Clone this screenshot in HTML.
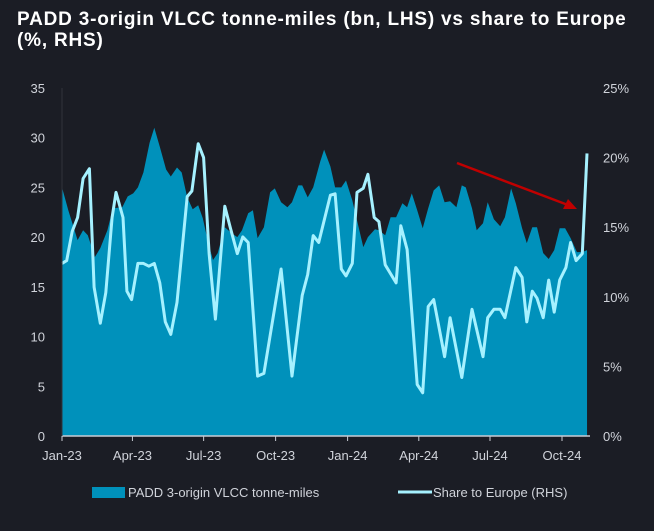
<!DOCTYPE html>
<html><head><meta charset="utf-8"><style>
body{margin:0;background:#1b1d25;width:654px;height:531px;overflow:hidden;font-family:"Liberation Sans",sans-serif}
#title{position:absolute;left:17px;top:9px;color:#fff;font-weight:bold;font-size:19px;line-height:21px;letter-spacing:0.8px}
svg{position:absolute;left:0;top:0}
text{font-family:"Liberation Sans",sans-serif;fill:#d0d3da;font-size:13px}
</style></head><body>
<div id="title">PADD 3-origin VLCC tonne-miles (bn, LHS) vs share to Europe<br>(%, RHS)</div>
<svg id="chart" width="654" height="531"></svg>
<script>
const areaDays=[0,8,20,27,33,42,49,58,65,77,84,91,97,104,112,118,125,133,139,147,153,160,167,174,180,187,193,199,208,217,224,230,238,244,250,258,266,272,280,288,294,302,307,314,321,330,335,343,349,357,363,371,377,385,391,400,405,413,420,427,435,441,447,454,461,468,475,482,489,496,504,511,516,524,530,538,544,552,560,566,574,580,588,594,601,607,615,622,629,636,643,650,658,665,671];
const tonneMiles=[25.0,22.7,19.7,20.7,20.2,18.0,18.9,20.7,22.9,23.0,24.1,24.4,25.0,26.5,29.5,31.0,29.1,26.8,26.1,27.0,26.5,24.0,22.8,23.2,21.9,19.4,17.7,18.4,21.0,20.4,20.0,20.7,22.4,22.7,19.9,21.0,24.5,24.9,23.5,23.0,23.5,25.2,25.2,24.0,25.0,27.6,28.8,27.1,25.0,25.0,25.7,23.7,21.7,19.0,20.0,20.8,20.7,20.2,22.0,22.0,23.4,23.0,24.4,22.7,20.9,22.9,24.7,25.2,23.5,23.6,23.0,25.2,25.0,22.9,20.7,21.4,23.5,21.8,21.1,22.0,24.9,23.4,20.9,19.4,21.0,21.0,18.4,17.8,18.7,20.9,20.9,19.9,18.5,18.5,18.7];
const lineDays=[0,6,13,20,27,35,41,49,56,64,69,78,83,89,97,104,111,118,125,132,139,147,153,160,166,174,181,188,196,208,215,224,231,238,250,258,280,294,307,314,321,328,343,349,357,363,371,377,385,391,399,405,413,427,433,441,454,461,468,475,489,496,511,524,538,544,552,560,566,580,588,594,601,607,615,622,629,636,644,650,657,665,671];
const europeShare=[12.4,12.6,14.7,15.7,18.5,19.2,10.7,8.1,10.3,15.7,17.5,15.7,10.4,9.8,12.4,12.4,12.2,12.4,11.0,8.2,7.3,9.6,13.1,17.2,17.6,21.0,20.0,13.1,8.4,16.5,15.0,13.1,14.3,13.9,4.3,4.5,12.0,4.3,10.1,11.6,14.4,13.9,17.3,17.4,12.0,11.5,12.4,17.5,17.8,18.8,15.7,15.4,12.3,11.0,15.1,13.4,3.7,3.1,9.3,9.8,5.7,8.5,4.2,9.1,5.7,8.5,9.1,9.1,8.5,12.1,11.4,8.2,10.4,9.9,8.5,11.2,8.9,11.2,12.1,13.9,12.6,13.1,20.3];
const leftTicks=[0,5,10,15,20,25,30,35];
const rightTicks=[0,5,10,15,20,25];
const monthLabels=["Jan-23","Apr-23","Jul-23","Oct-23","Jan-24","Apr-24","Jul-24","Oct-24"];
const monthDays=[0,90,181,273,365,456,547,639];

const X0=62,Y0=436,YT=88;
const x=d=>X0+d*(500/639);
const yL=v=>Y0-(v/35)*(Y0-YT);
const yR=v=>Y0-(v/25)*(Y0-YT);
const svg=document.getElementById('chart');
const NS='http://www.w3.org/2000/svg';
function mk(t,a){const e=document.createElementNS(NS,t);for(const k in a)e.setAttribute(k,a[k]);svg.appendChild(e);return e;}

let d='M'+x(areaDays[0])+','+Y0;
areaDays.forEach((dd,i)=>{d+=' L'+x(dd).toFixed(1)+','+yL(tonneMiles[i]).toFixed(1);});
d+=' L'+x(areaDays[areaDays.length-1])+','+Y0+' Z';
const area=mk('path',{d:d,fill:'#0091bb'});



let ld='';
lineDays.forEach((dd,i)=>{ld+=(i?' L':'M')+x(dd).toFixed(1)+','+yR(europeShare[i]).toFixed(1);});
const line=mk('path',{d:ld,fill:'none',stroke:'#a6f1ff','stroke-width':3,'stroke-linejoin':'round'});



const ax=mk('line',{x1:X0,y1:Y0,x2:590,y2:Y0,stroke:'#c8ccd4','stroke-width':1.5});


const lax=mk('line',{x1:X0,y1:YT,x2:X0,y2:Y0,stroke:'#30333c','stroke-width':1});



leftTicks.forEach(v=>{const t=mk('text',{x:45,y:yL(v)+5,'text-anchor':'end'});t.textContent=v;

});
rightTicks.forEach(v=>{const t=mk('text',{x:603,y:yR(v)+5,'text-anchor':'start'});t.textContent=v+'%';

});
monthLabels.forEach((m,i)=>{const xx=x(monthDays[i]);
const tk=mk('line',{x1:xx,y1:Y0,x2:xx,y2:Y0+5,stroke:'#c8ccd4','stroke-width':1});


const t=mk('text',{x:xx,y:Y0+24,'text-anchor':'middle'});t.textContent=m;

});

const ar=mk('line',{x1:457,y1:163,x2:568,y2:205,stroke:'#c00000','stroke-width':2.5});


const ah=mk('polygon',{points:'577,209 563,209 568,199',fill:'#c00000'});



const l1=mk('rect',{x:92,y:487,width:33,height:11,fill:'#0091bb'});


const lt1=mk('text',{x:128,y:497});lt1.textContent='PADD 3-origin VLCC tonne-miles';


const l2=mk('line',{x1:398,y1:492,x2:432,y2:492,stroke:'#a6f1ff','stroke-width':3});


const lt2=mk('text',{x:433,y:497});lt2.textContent='Share to Europe (RHS)';


</script>
</body></html>
